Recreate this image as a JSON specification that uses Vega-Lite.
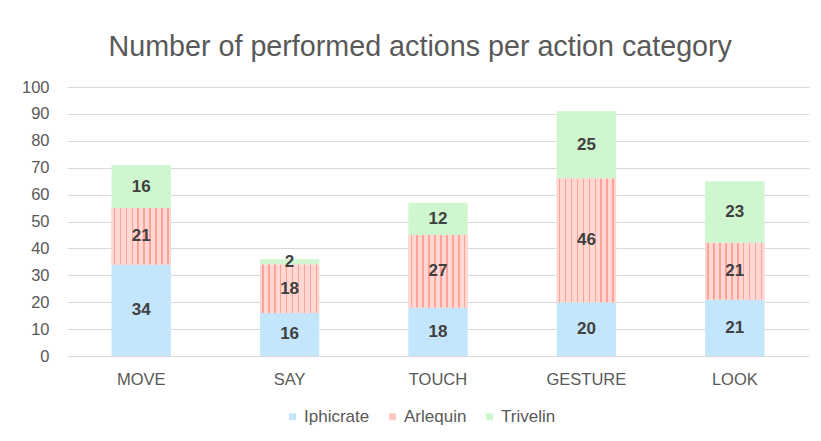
{
  "$schema": "https://vega.github.io/schema/vega-lite/v6.json",
  "width": 742,
  "height": 269,
  "autosize": "none",
  "padding": {"left": 67, "top": 87, "right": 12, "bottom": 85},
  "background": "white",
  "config": {
    "view": {"stroke": null},
    "font": "Liberation Sans",
    "axis": {"labelColor": "#595959", "labelFontSize": 16.5, "ticks": false, "domain": false, "gridColor": "#d9d9d9", "gridWidth": 1.2, "labelOverlap": false}
  },
  "title": {
    "text": "Number of performed actions per action category",
    "fontSize": 28.7,
    "fontWeight": "normal",
    "color": "#595959",
    "anchor": "middle",
    "frame": "bounds",
    "offset": 17,
    "dx": 5
  },
  "data": {
    "values": [
      {"category": "MOVE", "series": "Iphicrate", "value": 34},
      {"category": "MOVE", "series": "Arlequin", "value": 21},
      {"category": "MOVE", "series": "Trivelin", "value": 16},
      {"category": "SAY", "series": "Iphicrate", "value": 16},
      {"category": "SAY", "series": "Arlequin", "value": 18},
      {"category": "SAY", "series": "Trivelin", "value": 2},
      {"category": "TOUCH", "series": "Iphicrate", "value": 18},
      {"category": "TOUCH", "series": "Arlequin", "value": 27},
      {"category": "TOUCH", "series": "Trivelin", "value": 12},
      {"category": "GESTURE", "series": "Iphicrate", "value": 20},
      {"category": "GESTURE", "series": "Arlequin", "value": 46},
      {"category": "GESTURE", "series": "Trivelin", "value": 25},
      {"category": "LOOK", "series": "Iphicrate", "value": 21},
      {"category": "LOOK", "series": "Arlequin", "value": 21},
      {"category": "LOOK", "series": "Trivelin", "value": 23}
    ]
  },
  "transform": [
    {"stack": "value", "groupby": ["category"], "as": ["y0", "y1"]}
  ],
  "encoding": {
    "x": {
      "field": "category",
      "type": "nominal",
      "sort": ["MOVE", "SAY", "TOUCH", "GESTURE", "LOOK"],
      "scale": {"paddingInner": 0.6, "paddingOuter": 0.3},
      "axis": {"title": null, "labelAngle": 0, "labelPadding": 15, "grid": false}
    }
  },
  "layer": [
    {
      "mark": {"type": "bar"},
      "encoding": {
        "y": {
          "field": "y0",
          "type": "quantitative",
          "scale": {"domain": [0, 100], "nice": false},
          "axis": {"title": null, "values": [0, 10, 20, 30, 40, 50, 60, 70, 80, 90, 100], "labelPadding": 18}
        },
        "y2": {"field": "y1"},
        "fill": {
          "field": "series",
          "type": "nominal",
          "scale": {
            "domain": ["Iphicrate", "Arlequin", "Trivelin"],
            "range": ["#c3e6fd", "#ffc9c3", "#cff6cf"]
          },
          "legend": {
            "title": null,
            "orient": "none",
            "legendX": 217,
            "legendY": 321,
            "direction": "horizontal",
            "symbolType": "square",
            "symbolSize": 49,
            "symbolStrokeWidth": 0,
            "labelFontSize": 17,
            "labelColor": "#595959",
            "columnPadding": 14,
            "labelOffset": 3
          }
        }
      }
    },
    {
      "transform": [{"filter": {"field": "series", "equal": "Arlequin"}}],
      "mark": {
        "type": "bar",
        "fill": {"gradient": "linear", "x1": 0, "x2": 1, "y1": 0, "y2": 0, "stops": [
          {"offset": 0, "color": "#ffd8d3"},
          {"offset": 0.0375, "color": "#ffd8d3"}, {"offset": 0.0375, "color": "#ffa29a"}, {"offset": 0.0625, "color": "#ffa29a"}, {"offset": 0.0625, "color": "#ffd8d3"},
          {"offset": 0.1375, "color": "#ffd8d3"}, {"offset": 0.1375, "color": "#ffa29a"}, {"offset": 0.1625, "color": "#ffa29a"}, {"offset": 0.1625, "color": "#ffd8d3"},
          {"offset": 0.2375, "color": "#ffd8d3"}, {"offset": 0.2375, "color": "#ffa29a"}, {"offset": 0.2625, "color": "#ffa29a"}, {"offset": 0.2625, "color": "#ffd8d3"},
          {"offset": 0.3375, "color": "#ffd8d3"}, {"offset": 0.3375, "color": "#ffa29a"}, {"offset": 0.3625, "color": "#ffa29a"}, {"offset": 0.3625, "color": "#ffd8d3"},
          {"offset": 0.4375, "color": "#ffd8d3"}, {"offset": 0.4375, "color": "#ffa29a"}, {"offset": 0.4625, "color": "#ffa29a"}, {"offset": 0.4625, "color": "#ffd8d3"},
          {"offset": 0.5375, "color": "#ffd8d3"}, {"offset": 0.5375, "color": "#ffa29a"}, {"offset": 0.5625, "color": "#ffa29a"}, {"offset": 0.5625, "color": "#ffd8d3"},
          {"offset": 0.6375, "color": "#ffd8d3"}, {"offset": 0.6375, "color": "#ffa29a"}, {"offset": 0.6625, "color": "#ffa29a"}, {"offset": 0.6625, "color": "#ffd8d3"},
          {"offset": 0.7375, "color": "#ffd8d3"}, {"offset": 0.7375, "color": "#ffa29a"}, {"offset": 0.7625, "color": "#ffa29a"}, {"offset": 0.7625, "color": "#ffd8d3"},
          {"offset": 0.8375, "color": "#ffd8d3"}, {"offset": 0.8375, "color": "#ffa29a"}, {"offset": 0.8625, "color": "#ffa29a"}, {"offset": 0.8625, "color": "#ffd8d3"},
          {"offset": 0.9375, "color": "#ffd8d3"}, {"offset": 0.9375, "color": "#ffa29a"}, {"offset": 0.9625, "color": "#ffa29a"}, {"offset": 0.9625, "color": "#ffd8d3"},
          {"offset": 1, "color": "#ffd8d3"}
        ]}
      },
      "encoding": {
        "y": {"field": "y0", "type": "quantitative", "axis": {"title": null, "values": [0, 10, 20, 30, 40, 50, 60, 70, 80, 90, 100], "labelPadding": 18}},
        "y2": {"field": "y1"}
      }
    },
    {
      "transform": [{"fold": ["y0", "y1"], "as": ["edge", "pos"]}],
      "mark": {"type": "text", "fontWeight": "bold", "fontSize": 17, "color": "#404040", "baseline": "middle"},
      "encoding": {
        "y": {"aggregate": "mean", "field": "pos", "type": "quantitative", "axis": {"title": null, "values": [0, 10, 20, 30, 40, 50, 60, 70, 80, 90, 100], "labelPadding": 18}},
        "detail": {"field": "series", "type": "nominal"},
        "text": {"aggregate": "max", "field": "value", "type": "quantitative"}
      }
    }
  ]
}
